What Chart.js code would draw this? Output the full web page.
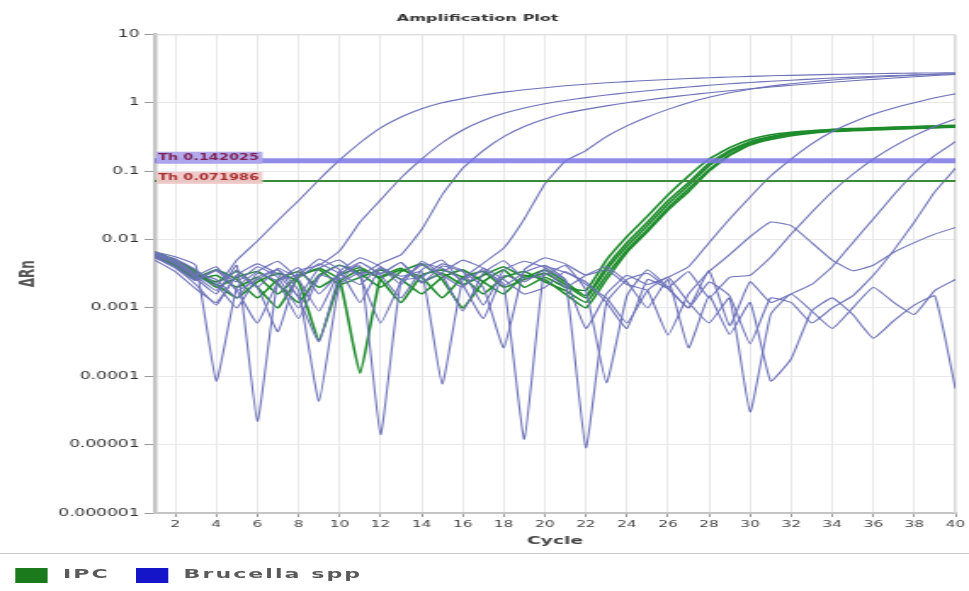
<!DOCTYPE html>
<html><head><meta charset="utf-8">
<script src="https://cdn.jsdelivr.net/npm/chart.js@4.4.1/dist/chart.umd.min.js"></script>
<style>
html,body{margin:0;padding:0;background:#fff;overflow:hidden;width:969px;height:591px}
#wrap{position:absolute;left:0;top:0;width:570px;height:591px;transform:scaleX(1.7);transform-origin:0 0}
#c{position:absolute;left:0;top:0}
#legend{position:absolute;left:0;top:553px;width:570px;height:38px;border-top:1px solid #c8c8c8;font:bold 13px "DejaVu Sans",sans-serif;color:#5a5a5a}
.sw{position:absolute;top:14px;width:19px;height:15px}
.lb{position:absolute;top:11px;line-height:18px;letter-spacing:1.2px;white-space:nowrap}
</style></head><body>
<div id="wrap"><canvas id="c" width="570" height="553"></canvas><div id="legend"></div></div>
<script>
const chartTitle = 'Amplification Plot';
const cycles = [1,2,3,4,5,6,7,8,9,10,11,12,13,14,15,16,17,18,19,20,21,22,23,24,25,26,27,28,29,30,31,32,33,34,35,36,37,38,39,40];
const xTicks = [2,4,6,8,10,12,14,16,18,20,22,24,26,28,30,32,34,36,38,40];
const yTicks = [0.000001,0.00001,0.0001,0.001,0.01,0.1,1,10];
const yTickLabels = ['0.000001','0.00001','0.0001','0.001','0.01','0.1','1','10'];
const seriesNames = ['IPC','Brucella spp'];
const thresholds = [0.142, 0.072];
const thresholdLabels = ['Th 0.142025','Th 0.071986'];

// Brucella spp wells
const brucella1 = [6.0e-3,4.8e-3,3.0e-3,2.1e-3,5.0e-3,9.5e-3,0.019,0.037,0.075,0.145,0.26,0.43,0.62,0.82,1.0,1.15,1.3,1.43,1.55,1.66,1.77,1.87,1.96,2.04,2.12,2.19,2.26,2.32,2.38,2.43,2.48,2.52,2.56,2.6,2.63,2.66,2.69,2.71,2.73,2.75];
const brucella2 = [5.5e-3,3.8e-3,2.2e-3,1.1e-3,3.0e-3,2.0e-3,4.5e-4,3.5e-3,4.2e-3,6.8e-3,0.018,0.038,0.08,0.15,0.26,0.4,0.55,0.7,0.84,0.97,1.08,1.19,1.3,1.4,1.5,1.6,1.7,1.8,1.9,1.98,2.06,2.14,2.22,2.3,2.37,2.44,2.5,2.56,2.61,2.66];
const brucella3 = [6.5e-3,5.0e-3,3.2e-3,2.6e-3,1.4e-3,3.2e-3,2.4e-3,7.0e-4,2.8e-3,4.2e-3,3.0e-3,4.5e-3,6.0e-3,0.014,0.045,0.11,0.2,0.32,0.45,0.58,0.7,0.8,0.9,1.0,1.1,1.2,1.3,1.4,1.5,1.6,1.7,1.8,1.9,2.0,2.1,2.2,2.3,2.4,2.5,2.6];
const brucella4 = [5.8e-3,4.4e-3,2.7e-3,1.6e-3,4.2e-3,2.2e-5,2.5e-3,3.0e-3,5.2e-3,3.6e-3,1.2e-3,3.8e-3,2.9e-3,3.4e-3,7.7e-5,2.6e-3,4.5e-3,7.5e-3,0.02,0.065,0.14,0.2,0.32,0.46,0.62,0.8,1.0,1.2,1.4,1.58,1.75,1.9,2.03,2.15,2.26,2.36,2.45,2.53,2.6,2.66];
const brucella5 = [6.2e-3,5.2e-3,3.6e-3,2.2e-3,1.0e-3,2.8e-3,3.6e-3,1.8e-3,4.3e-5,2.2e-3,3.3e-3,3.1e-3,4.6e-3,2.4e-3,3.3e-3,5.0e-3,3.8e-3,2.1e-3,3.3e-3,4.2e-3,2.6e-3,5.0e-4,1.6e-3,3.0e-3,2.2e-3,2.8e-3,4.0e-3,9.0e-3,0.02,0.042,0.085,0.15,0.25,0.38,0.52,0.68,0.84,1.0,1.18,1.35];
const brucella6 = [5.4e-3,4.0e-3,2.5e-3,3.5e-3,1.8e-3,6.0e-4,2.4e-3,3.9e-3,1.6e-3,3.2e-3,4.1e-3,1.4e-5,2.5e-3,2.8e-3,4.4e-3,3.5e-3,1.1e-3,3.6e-3,4.8e-3,3.9e-3,2.5e-3,9.0e-6,1.2e-3,2.6e-3,3.2e-3,2.0e-3,3.4e-3,1.4e-3,2.8e-3,3.0e-3,5.5e-3,0.012,0.025,0.05,0.09,0.15,0.23,0.33,0.45,0.58];
const brucella7 = [6.6e-3,5.6e-3,4.2e-3,8.5e-5,2.0e-3,3.4e-3,4.8e-3,2.6e-3,9.0e-4,3.4e-3,5.4e-3,4.0e-3,2.2e-3,4.8e-3,3.0e-3,9.0e-4,3.2e-3,4.9e-3,2.7e-3,3.0e-3,4.2e-3,1.8e-3,8.0e-5,1.5e-3,3.6e-3,2.0e-3,1.0e-3,3.5e-3,5.5e-4,2.4e-3,1.2e-3,1.6e-3,2.2e-3,4.0e-3,9.0e-3,0.02,0.045,0.095,0.17,0.27];
const brucella8 = [5.0e-3,3.4e-3,1.9e-3,1.2e-3,3.0e-3,4.4e-3,3.1e-3,1.5e-3,3.8e-3,5.0e-3,2.8e-3,6.0e-4,2.4e-3,4.4e-3,3.8e-3,2.6e-3,3.5e-3,2.2e-3,1.2e-5,4.0e-3,3.3e-3,2.4e-3,1.2e-3,5.0e-4,2.6e-3,1.9e-3,1.0e-3,2.4e-3,1.5e-3,3.0e-4,1.4e-3,1.2e-3,6.0e-4,1.0e-3,1.5e-3,3.0e-3,7.0e-3,0.018,0.05,0.11];
const brucella9 = [6.4e-3,4.6e-3,3.0e-3,4.0e-3,1.8e-3,2.6e-3,3.6e-3,1.4e-3,3.2e-4,3.0e-3,4.6e-3,3.2e-3,4.6e-3,2.3e-3,4.1e-3,3.4e-3,2.0e-3,2.6e-4,3.6e-3,5.4e-3,4.4e-3,3.0e-3,3.6e-3,2.2e-3,1.8e-3,4.0e-4,1.6e-3,3.4e-3,6.0e-3,0.011,0.018,0.016,0.009,0.005,0.0035,0.0042,0.0065,0.009,0.012,0.015];
const brucella10 = [5.6e-3,4.0e-3,2.6e-3,3.6e-3,2.4e-3,4.0e-3,2.8e-3,1.0e-3,3.0e-3,2.6e-3,4.6e-3,3.0e-3,1.4e-3,3.6e-3,5.0e-3,2.2e-3,7.0e-4,3.0e-3,2.4e-3,3.6e-3,2.0e-3,3.0e-3,4.0e-3,2.4e-3,1.0e-3,2.6e-3,2.6e-4,1.5e-3,4.1e-4,1.2e-3,8.5e-5,1.8e-4,9.0e-4,1.4e-3,8.0e-4,3.6e-4,6.5e-4,1.1e-3,1.5e-3,6.6e-5];
const brucella11 = [6.0e-3,4.4e-3,2.9e-3,1.8e-3,3.6e-3,2.0e-3,3.8e-3,2.8e-3,4.4e-3,3.2e-3,2.2e-3,4.0e-3,2.6e-3,4.2e-3,3.0e-3,2.0e-3,3.8e-3,2.6e-3,1.6e-3,2.0e-3,3.4e-3,2.2e-3,1.4e-3,6.0e-4,1.8e-3,2.8e-3,1.2e-3,6.0e-4,1.4e-3,3.0e-5,8.0e-4,1.6e-3,9.0e-4,5.0e-4,1.0e-3,2.0e-3,1.2e-3,8.0e-4,1.8e-3,2.6e-3];

// IPC wells
const ipc1 = [6.2e-3,4.6e-3,3.2e-3,2.4e-3,3.4e-3,2.0e-3,1.0e-3,2.8e-3,3.8e-3,2.6e-3,1.1e-4,2.8e-3,3.8e-3,2.4e-3,3.2e-3,2.2e-3,3.0e-3,4.0e-3,2.8e-3,3.6e-3,2.4e-3,1.5e-3,4.0e-3,9.0e-3,0.018,0.037,0.068,0.13,0.2,0.27,0.32,0.36,0.38,0.4,0.41,0.42,0.43,0.44,0.45,0.46];
const ipc2 = [5.8e-3,4.2e-3,2.8e-3,3.6e-3,2.6e-3,1.4e-3,2.6e-3,3.4e-3,2.0e-3,3.0e-3,3.9e-3,2.6e-3,1.2e-3,3.0e-3,3.6e-3,2.8e-3,1.6e-3,2.8e-3,3.4e-3,2.4e-3,1.8e-3,1.2e-3,3.0e-3,7.0e-3,0.014,0.029,0.055,0.105,0.175,0.25,0.3,0.34,0.37,0.39,0.4,0.41,0.42,0.43,0.44,0.45];
const ipc3 = [6.6e-3,5.0e-3,3.4e-3,2.0e-3,2.8e-3,3.4e-3,2.2e-3,1.2e-3,3.0e-3,4.2e-3,3.2e-3,2.0e-3,3.4e-3,4.4e-3,2.6e-3,1.0e-3,2.4e-3,3.6e-3,2.0e-3,2.8e-3,2.0e-3,1.8e-3,5.0e-3,0.011,0.022,0.045,0.085,0.15,0.22,0.29,0.34,0.37,0.39,0.41,0.42,0.43,0.44,0.45,0.46,0.47];
const ipc4 = [6.0e-3,4.4e-3,3.0e-3,2.2e-3,1.4e-3,2.4e-3,3.2e-3,2.4e-3,3.4e-4,2.4e-3,3.6e-3,2.8e-3,3.6e-3,2.8e-3,1.4e-3,2.8e-3,3.4e-3,2.0e-3,2.6e-3,3.2e-3,2.2e-3,1.4e-3,3.6e-3,8.0e-3,0.016,0.033,0.062,0.12,0.19,0.26,0.31,0.35,0.37,0.39,0.4,0.41,0.42,0.43,0.44,0.45];
const ipc5 = [5.6e-3,4.0e-3,2.6e-3,3.0e-3,2.0e-3,2.8e-3,1.6e-3,3.0e-3,3.6e-3,2.2e-3,2.8e-3,3.6e-3,2.6e-3,1.6e-3,2.8e-3,3.6e-3,2.4e-3,1.6e-3,3.0e-3,2.6e-3,1.6e-3,1.0e-3,2.6e-3,6.5e-3,0.013,0.027,0.05,0.1,0.17,0.24,0.29,0.33,0.36,0.38,0.39,0.4,0.41,0.42,0.43,0.44];

const brucellaSeries = [brucella1,brucella2,brucella3,brucella4,brucella5,brucella6,brucella7,brucella8,brucella9,brucella10,brucella11];
const ipcSeries = [ipc1,ipc2,ipc3,ipc4,ipc5];

const legendColors = ['#1b7a1b','#1414c8'];
const lineColors = ['#1e8c2c','#6e72b8'];
const thColors = ['rgba(125,118,228,0.85)','#3a8a3a'];
const thWidths = [5, 2];
const thLabelBg = ['rgba(175,165,235,0.95)','rgba(240,200,200,0.95)'];
const thLabelFg = ['#7d1f50','#a83030'];

function mk(vals, color, w, label){
  return {label: label, data: vals.map((v,i)=>({x:cycles[i], y:v})), borderColor: color, borderWidth: w,
    pointRadius: 0, tension: 0.12, fill: false, spanGaps: false};
}
const datasets = [];
brucellaSeries.forEach(s=>datasets.push(mk(s, lineColors[1], 1.1, seriesNames[1])));
ipcSeries.forEach(s=>datasets.push(mk(s, lineColors[0], 1.6, seriesNames[0])));

const frame = {id:'frame', beforeDatasetsDraw(chart){
  const {ctx, chartArea:a} = chart; ctx.save(); ctx.strokeStyle='#dadada'; ctx.lineWidth=1;
  ctx.beginPath(); ctx.moveTo(a.left,a.top+0.5); ctx.lineTo(a.right-0.5,a.top+0.5); ctx.lineTo(a.right-0.5,a.bottom); ctx.stroke(); ctx.restore();
}};
const thPlugin = {id:'th', afterDatasetsDraw(chart){
  const {ctx, chartArea:a, scales:{y}} = chart;
  ctx.save();
  thresholds.forEach((t,i)=>{
    const py = y.getPixelForValue(t);
    ctx.strokeStyle = thColors[i]; ctx.lineWidth = thWidths[i];
    ctx.beginPath(); ctx.moveTo(a.left, py); ctx.lineTo(a.right, py); ctx.stroke();
  });
  ctx.font = 'bold 8.5px "DejaVu Sans"';
  ctx.textBaseline = 'middle';
  thresholds.forEach((t,i)=>{
    const py = y.getPixelForValue(t);
    const w = ctx.measureText(thresholdLabels[i]).width + 3;
    ctx.fillStyle = thLabelBg[i];
    ctx.fillRect(a.left+1, py-9, w, 12);
    ctx.fillStyle = thLabelFg[i];
    ctx.fillText(thresholdLabels[i], a.left+2, py-3);
  });
  ctx.restore();
}};

new Chart(document.getElementById('c'), {
  type: 'line',
  data: {datasets},
  plugins: [frame, thPlugin],
  options: {
    responsive: false, animation: false, devicePixelRatio: 1,
    layout: {padding: {top: 5, right: 8, left: 0, bottom: 0}},
    plugins: {
      legend: {display: false}, tooltip: {enabled: false},
      title: {display: true, text: chartTitle, color: '#333', font: {family: 'DejaVu Sans', size: 9.5, weight: 'bold'}, padding: {top: 8, bottom: 10}}
    },
    scales: {
      x: {type: 'linear', min: 1, max: 40,
        afterBuildTicks: s => { s.ticks = xTicks.map(v => ({value: v})); },
        afterFit: s => { s.height = 40; },
        ticks: {font: {family: 'DejaVu Sans', size: 9}, color: '#444', padding: 2, maxRotation: 0, autoSkip: false},
        grid: {color: '#e8e8e8', tickLength: 4, tickColor: '#999'},
        border: {color: '#c4c4c4', width: 2},
        title: {display: true, text: 'Cycle', color: '#444', font: {family: 'DejaVu Sans', size: 11, weight: 'bold'}, padding: {top: 0, bottom: 5}}
      },
      y: {type: 'logarithmic', min: 1e-6, max: 10,
        afterBuildTicks: s => { s.ticks = yTicks.map(v => ({value: v})); },
        afterFit: s => { s.width = 91; },
        ticks: {callback: (v, i) => yTickLabels[i], font: {family: 'DejaVu Sans', size: 10}, color: '#333', padding: 3, autoSkip: false},
        grid: {color: '#e8e8e8', tickLength: 6, tickColor: '#999'},
        border: {color: '#c4c4c4', width: 2.5},
        title: {display: true, text: 'ΔRn', color: '#555', font: {family: 'DejaVu Sans', size: 12, weight: 'bold'}, padding: {top: 10, bottom: 0}}
      }
    }
  }
});

const lg = document.getElementById('legend');
const swLeft = [9, 80], lbLeft = [37, 108];
seriesNames.forEach((n, i) => {
  const sw = document.createElement('div'); sw.className = 'sw'; sw.style.left = swLeft[i] + 'px'; sw.style.background = legendColors[i]; lg.appendChild(sw);
  const lb = document.createElement('div'); lb.className = 'lb'; lb.style.left = lbLeft[i] + 'px'; lb.textContent = n; lg.appendChild(lb);
});
</script>
</body></html>
